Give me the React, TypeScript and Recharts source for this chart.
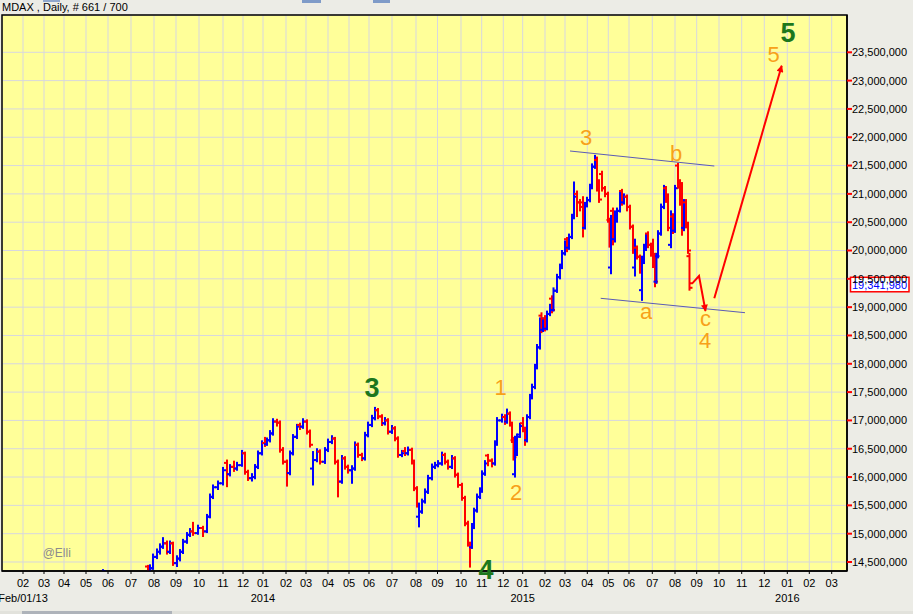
import React from 'react';
import {
  ComposedChart,
  Bar,
  Line,
  XAxis,
  YAxis,
  CartesianGrid,
  ReferenceDot,
  ReferenceArea,
} from 'recharts';

// ---- OHLC data (bar number = trading-day slot on the chart, values in thousands) ----
const barIdx = [
  101, 146, 148, 151, 155, 158, 161, 165, 168, 171, 175, 178, 181, 185, 188, 191, 196, 201, 205, 208,
  211, 216, 221, 225, 228, 232, 235, 240, 243, 246, 250, 253, 256, 260, 263, 265, 268, 271, 275, 278,
  281, 285, 288, 291, 295, 298, 301, 305, 308, 311, 315, 318, 323, 326, 330, 333, 336, 340, 343, 346,
  350, 353, 356, 360, 363, 366, 370, 373, 376, 380, 383, 386, 390, 393, 396, 400, 403, 406, 410, 412,
  415, 417, 420, 423, 426, 430, 433, 436, 440, 443, 446, 450, 453, 456, 460, 463, 466, 468, 470, 472,
  475, 478, 480, 483, 486, 490, 493, 495, 500, 503, 505, 508, 510, 511.5, 513, 515, 518, 521, 523, 525,
  528, 530, 533, 535, 538, 539.5, 541, 543, 545, 548, 550, 551.5, 555, 558, 560, 563, 565, 567, 570, 572,
  575, 578, 581, 583, 585, 588, 590, 593, 595, 597, 600, 603, 606, 607.5, 609, 611, 613, 615, 618, 620,
  622, 625, 628, 631, 633, 635, 638, 640, 642, 644, 646, 649, 651, 653, 654.5, 656, 659, 662, 664, 666,
  669, 671, 673, 676, 678, 680, 682, 684, 686, 687.5,
];
const opens = [
  14300, 14420, 14330, 14390, 14590, 14680, 14770, 14830, 14680, 14830, 14480, 14560, 14680, 14860, 14980, 15040, 15010, 15100, 15040, 15300,
  15650, 15820, 15890, 16250, 16050, 16180, 16150, 16210, 16420, 16090, 15980, 16000, 16180, 16420, 16600, 16580, 16650, 16770, 16980, 16960,
  16480, 16270, 16070, 16420, 16710, 16920, 16890, 16980, 16800, 16150, 16300, 16450, 16270, 16480, 16620, 16680, 16270, 15920, 16330, 16180,
  16120, 16150, 16570, 16390, 16330, 16740, 16920, 17040, 17180, 17070, 16950, 17000, 16800, 16860, 16680, 16390, 16460, 16420, 16480, 16270,
  15800, 15300, 15390, 15570, 15740, 15980, 16180, 16210, 16240, 16390, 16270, 16180, 16330, 16040, 15860, 15630, 15180, 14820, 14760, 15120,
  15410, 15650, 15760, 16060, 16380, 16290, 16240, 16590, 17000, 17060, 16980, 17120, 16940, 16650, 16050, 16400, 16750, 16950, 16850, 16650,
  17060, 17410, 17590, 17940, 18290, 18850, 18600, 18800, 18620, 18880, 19150, 18950, 19290, 19530, 19710, 19950, 20200, 20050, 20240, 20590,
  21000, 20850, 20850, 20400, 20800, 20890, 21120, 21480, 21600, 21120, 21350, 21100, 21000, 20540, 19700, 20700, 20200, 20650, 20700, 21050,
  20850, 20950, 20770, 20420, 19700, 20050, 19890, 19300, 19800, 20060, 20300, 20100, 19950, 19900, 19450, 19900, 20300, 20770, 21100, 20950,
  20100, 20600, 20350, 21500, 21200, 21000, 20400, 20850, 20450, 19900,
];
const highs = [
  14365, 14440, 14450, 14640, 14730, 14820, 14930, 14870, 14870, 14850, 14610, 14720, 14900, 15020, 15090, 15200, 15150, 15130, 15340, 15700,
  15860, 15930, 16170, 16300, 16220, 16280, 16260, 16470, 16440, 16120, 16060, 16220, 16460, 16640, 16700, 16690, 16820, 17030, 17020, 16990,
  16520, 16300, 16460, 16750, 16930, 16950, 17030, 17010, 16830, 16450, 16500, 16480, 16520, 16670, 16730, 16700, 16300, 16380, 16360, 16210,
  16200, 16620, 16600, 16420, 16790, 16970, 17090, 17230, 17210, 17100, 17050, 17030, 16910, 16890, 16710, 16470, 16520, 16530, 16510, 16300,
  15830, 15540, 15610, 15790, 16030, 16230, 16260, 16290, 16440, 16420, 16300, 16380, 16360, 16070, 15890, 15660, 15220, 14850, 15180, 15450,
  15700, 15810, 16110, 16290, 16400, 16320, 16640, 17050, 17110, 17100, 17200, 17150, 16970, 16700, 16720, 16760, 16950, 17050, 16880, 17100,
  17460, 17640, 17990, 18340, 18810, 18900, 18810, 18850, 18930, 19050, 19200, 19340, 19580, 19760, 20000, 20170, 20230, 20290, 20640, 21210,
  21050, 20900, 20950, 20850, 20940, 21170, 21530, 21680, 21650, 21250, 21400, 21130, 21030, 20570, 20620, 20750, 20700, 20750, 21060, 21080,
  21000, 20980, 20800, 20450, 20200, 20080, 19920, 19900, 20110, 20300, 20330, 20130, 20200, 19950, 19950, 20350, 20820, 21150, 21130, 21000,
  20700, 20650, 21150, 21540, 21250, 21200, 20900, 20900, 20500, 19950,
];
const lows = [
  14250, 14300, 14300, 14370, 14560, 14640, 14740, 14640, 14650, 14440, 14420, 14520, 14650, 14830, 14950, 14970, 14990, 14950, 15020, 15280,
  15620, 15780, 15860, 15830, 16020, 16100, 16120, 16190, 16050, 15940, 15930, 15970, 16150, 16390, 16540, 16560, 16620, 16740, 16900, 16440,
  16230, 15840, 16040, 16390, 16680, 16840, 16860, 16760, 16530, 15860, 16270, 16230, 16240, 16450, 16590, 16230, 15650, 15890, 16140, 16070,
  15890, 16120, 16350, 16290, 16300, 16710, 16890, 17010, 17030, 16910, 16920, 16760, 16770, 16640, 16350, 16360, 16380, 16390, 16230, 15760,
  15470, 15120, 15360, 15540, 15710, 15950, 16150, 16180, 16210, 16230, 16140, 16150, 16000, 15820, 15590, 15140, 14780, 14410, 14740, 15090,
  15380, 15620, 15730, 16030, 16200, 16180, 16210, 16560, 16970, 16930, 16950, 16900, 16610, 16300, 16000, 16380, 16700, 16800, 16560, 16620,
  17030, 17380, 17560, 17910, 18260, 18550, 18570, 18580, 18600, 18850, 18900, 18930, 19260, 19500, 19680, 19920, 19980, 20020, 20210, 20560,
  20600, 20700, 20240, 20380, 20770, 20860, 21090, 21450, 21050, 20850, 21050, 20950, 20500, 20060, 19590, 20100, 20150, 20500, 20680, 20800,
  20820, 20700, 20380, 19950, 19550, 19850, 19600, 19120, 19770, 20000, 20050, 19900, 19700, 19360, 19420, 19870, 20270, 20740, 20850, 20350,
  20050, 20300, 20320, 21100, 20800, 20270, 20350, 20400, 19950, 19300,
];
const closes = [
  14340, 14330, 14390, 14590, 14680, 14770, 14830, 14680, 14830, 14480, 14560, 14680, 14860, 14980, 15040, 15010, 15100, 15040, 15300, 15650,
  15820, 15890, 16120, 16050, 16180, 16150, 16210, 16420, 16090, 15980, 16000, 16180, 16420, 16600, 16580, 16650, 16770, 16980, 16960, 16480,
  16270, 16070, 16420, 16710, 16890, 16890, 16980, 16800, 16570, 16300, 16450, 16270, 16480, 16620, 16680, 16270, 15920, 16330, 16180, 16120,
  16150, 16570, 16390, 16330, 16740, 16920, 17040, 17180, 17070, 16950, 17000, 16800, 16860, 16680, 16390, 16420, 16420, 16480, 16270, 15800,
  15510, 15390, 15570, 15740, 15980, 16180, 16210, 16240, 16390, 16270, 16180, 16330, 16040, 15860, 15630, 15180, 14820, 14760, 15120, 15410,
  15650, 15760, 16060, 16240, 16290, 16240, 16590, 17000, 17060, 16980, 17120, 16940, 16650, 16350, 16400, 16710, 16900, 16850, 16650, 17060,
  17410, 17590, 17940, 18290, 18760, 18600, 18760, 18620, 18880, 19000, 18950, 19290, 19530, 19710, 19950, 20120, 20050, 20240, 20590, 20950,
  20850, 20770, 20400, 20800, 20890, 21120, 21480, 21540, 21120, 20900, 21100, 21000, 20540, 20150, 20550, 20200, 20650, 20700, 21000, 20850,
  20950, 20770, 20420, 20000, 20050, 19890, 19650, 19800, 20060, 20240, 20100, 19950, 19800, 19450, 19900, 20300, 20770, 21060, 20900, 20400,
  20600, 20350, 21100, 21200, 20850, 20400, 20850, 20450, 20000, 19342,
];

// ---- projected path and channel lines ----
const projABars = [687.7, 690.3, 697, 703.5];
const projAVals = [19421, 19421, 19550, 18932];
const projBBars = [712.3, 779.7];
const projBVals = [19156, 23263];
const upperBars = [568, 712.3];
const upperVals = [21757, 21492];
const lowerBars = [598.7, 743];
const lowerVals = [19156, 18902];

// ---- axis ticks ----
const monthTickBars = [
  21, 42, 62, 84, 106, 129, 152, 174, 197, 221, 241, 261, 284, 304, 326, 347, 367, 390, 414, 435.5,
  459, 479.7, 501.3, 520.7, 543, 563, 585.3, 606.3, 627, 650.3, 673, 694.7, 717, 739.7, 762.3, 785.3, 807.3, 829.7,
];
const monthLabels = [
  '02', '03', '04', '05', '06', '07', '08', '09', '10', '11', '12',
  '01', '02', '03', '04', '05', '06', '07', '08', '09', '10', '11', '12',
  '01', '02', '03', '04', '05', '06', '07', '08', '09', '10', '11', '12',
  '01', '02', '03',
];
const yearTickIndex = [0, 11, 23, 35];
const yearLabels = ['Feb/01/13', '2014', '2015', '2016'];
const priceTicks = [
  14500, 15000, 15500, 16000, 16500, 17000, 17500, 18000, 18500, 19000,
  19500, 20000, 20500, 21000, 21500, 22000, 22500, 23000, 23500,
];
const lastPrice = 19342;
const lastPriceText = '19,341,980';

// ---- wave labels ----
const greenWaveText = ['3', '4', '5'];
const greenWaveBars = [370, 484, 786];
const greenWaveVals = [17578, 14364, 23850];
const orangeWaveText = ['1', '2', '3', 'a', 'b', 'c', '4', '5'];
const orangeWaveBars = [498.7, 514, 584, 644, 674, 703.5, 703, 771.5];
const orangeWaveVals = [17594, 15741, 22000, 18936, 21710, 18808, 18408, 23474];
const signText = '@Elli';
const signBar = 40.7;
const signVal = 14668;

const candles = barIdx.map((b, i) => ({
  bar: b,
  open: opens[i],
  high: highs[i],
  low: lows[i],
  close: closes[i],
}));
const toPts = (bars: number[], vals: number[]) => bars.map((b, i) => ({ bar: b, v: vals[i] }));
const projA = toPts(projABars, projAVals);
const projB = toPts(projBBars, projBVals);
const upperLine = toPts(upperBars, upperVals);
const lowerLine = toPts(lowerBars, lowerVals);

const FONT = '"Liberation Sans", Arial, Helvetica, sans-serif';
const Y_MIN = 14341;
const Y_MAX = 24158.6;
const X_MAX = 845;

const Candle = (props: any) => {
  const { x, y, width, height, payload } = props;
  if (!payload || x == null || y == null) return null;
  const top = Math.min(y, y + height);
  const h = Math.abs(height);
  const cx = x + width / 2;
  const range = payload.high - payload.low || 1;
  const py = (v: number) => top + ((payload.high - v) / range) * h;
  const color = payload.close >= payload.open ? '#0000FF' : '#FF0000';
  return (
    <g>
      <line x1={cx} x2={cx} y1={top - 0.5} y2={top + h + 0.5} stroke={color} strokeWidth={2} />
      <line x1={cx - 3} x2={cx} y1={py(payload.open)} y2={py(payload.open)} stroke={color} strokeWidth={2} />
      <line x1={cx} x2={cx + 3} y1={py(payload.close)} y2={py(payload.close)} stroke={color} strokeWidth={2} />
    </g>
  );
};

const MonthTick = (props: any) => {
  const { x, y, payload } = props;
  let i = props.index;
  if (monthLabels[i] === undefined || monthTickBars[i] !== payload.value) {
    i = monthTickBars.indexOf(payload.value);
  }
  const yi = yearTickIndex.indexOf(i);
  return (
    <g>
      <text x={x} y={y + 12.5} textAnchor="middle" fontSize={11} fontFamily={FONT} fill="#000">
        {monthLabels[i]}
      </text>
      {yi >= 0 && (
        <text x={x} y={y + 27.5} textAnchor="middle" fontSize={11} fontFamily={FONT} fill="#000">
          {yearLabels[yi]}
        </text>
      )}
    </g>
  );
};

const textLabel =
  (text: string, color: string, size: number, weight: string, anchor: string = 'middle') =>
  (props: any) => {
    const vb = props.viewBox || {};
    const cx = (vb.x || 0) + (vb.width || 0) / 2;
    const cy = (vb.y || 0) + (vb.height || 0) / 2;
    return (
      <text
        x={cx}
        y={cy}
        dy="0.355em"
        textAnchor={anchor}
        fill={color}
        fontSize={size}
        fontWeight={weight}
        fontFamily={FONT}
      >
        {text}
      </text>
    );
  };

const priceBox = (props: any) => {
  const vb = props.viewBox || {};
  const cx = (vb.x || 0) + (vb.width || 0) / 2;
  const cy = (vb.y || 0) + (vb.height || 0) / 2;
  return (
    <g>
      <rect x={cx + 3.5} y={cy - 10.5} width={58.5} height={14.5} fill="#FFFFFF" stroke="#FF0000" strokeWidth={1.5} />
      <text x={cx + 5} y={cy + 1} fontSize={11} fontFamily={FONT} fill="#0000FF">
        {lastPriceText}
      </text>
    </g>
  );
};

export default function App() {
  return (
    <div
      style={{
        position: 'absolute',
        left: 0,
        top: 0,
        width: 913,
        height: 614,
        background: '#ECECE6',
        overflow: 'hidden',
      }}
    >
      <div
        style={{
          position: 'absolute',
          left: 2,
          top: 0,
          fontFamily: FONT,
          fontSize: 11,
          lineHeight: '15px',
          color: '#000',
          whiteSpace: 'nowrap',
        }}
      >
        MDAX , Daily, # 661 / 700
      </div>
      <div style={{ position: 'absolute', left: 43, top: 0, width: 17, height: 2, background: '#8FA6CC' }} />
      <div style={{ position: 'absolute', left: 302, top: 0, width: 19, height: 3, background: '#7F9BC8' }} />
      <div style={{ position: 'absolute', left: 373, top: 0, width: 17, height: 3, background: '#7F9BC8' }} />
      <div style={{ position: 'absolute', left: 0, top: 611, width: 913, height: 3, background: '#E2E2DC' }} />
      <div style={{ position: 'absolute', left: 22, top: 611, width: 150, height: 3, background: '#AEB3BA' }} />
      <div style={{ position: 'absolute', left: 0, top: 0 }}>
        <ComposedChart
          width={913}
          height={614}
          data={candles}
          margin={{ top: 15, right: 0, bottom: 0, left: 2 }}
        >
          <defs>
            <marker
              id="arrowRed"
              viewBox="0 0 10 10"
              refX="9"
              refY="5"
              markerWidth="4.5"
              markerHeight="3.5"
              orient="auto"
              markerUnits="strokeWidth"
            >
              <path d="M0,0 L10,5 L0,10 z" fill="#FF0000" />
            </marker>
          </defs>
          <CartesianGrid fill="#FFFF99" stroke="#D7D7DF" strokeWidth={1} />
          <XAxis
            dataKey="bar"
            type="number"
            domain={[0, X_MAX]}
            ticks={monthTickBars}
            interval={0}
            allowDataOverflow
            height={43}
            tickSize={3}
            tickMargin={0}
            tickLine={{ stroke: '#000' }}
            axisLine={{ stroke: '#000', strokeWidth: 1.5 }}
            tick={<MonthTick />}
          />
          <YAxis
            orientation="right"
            type="number"
            domain={[Y_MIN, Y_MAX]}
            ticks={priceTicks}
            interval={0}
            allowDataOverflow
            width={66}
            tickSize={5}
            tickMargin={0}
            tickLine={{ stroke: '#FF0000', strokeWidth: 2 }}
            axisLine={{ stroke: '#000', strokeWidth: 1.5 }}
            tick={{ fill: '#000', fontSize: 11, fontFamily: FONT }}
            tickFormatter={(v: number) => (v * 1000).toLocaleString('en-US')}
          />
          <ReferenceArea
            x1={0}
            x2={X_MAX}
            y1={Y_MIN}
            y2={Y_MAX}
            fill="none"
            fillOpacity={0}
            stroke="#000"
            strokeWidth={1.5}
            ifOverflow="visible"
          />
          <Bar
            dataKey={(d: any) => [d.low, d.high]}
            barSize={2}
            shape={<Candle />}
            isAnimationActive={false}
          />
          <Line
            data={upperLine}
            dataKey="v"
            type="linear"
            stroke="#5B5BB5"
            strokeWidth={1}
            dot={false}
            activeDot={false}
            isAnimationActive={false}
          />
          <Line
            data={lowerLine}
            dataKey="v"
            type="linear"
            stroke="#5B5BB5"
            strokeWidth={1}
            dot={false}
            activeDot={false}
            isAnimationActive={false}
          />
          <Line
            data={projA}
            dataKey="v"
            type="linear"
            stroke="#FF0000"
            strokeWidth={2}
            dot={false}
            activeDot={false}
            markerEnd="url(#arrowRed)"
            isAnimationActive={false}
          />
          <Line
            data={projB}
            dataKey="v"
            type="linear"
            stroke="#FF0000"
            strokeWidth={2}
            dot={false}
            activeDot={false}
            markerEnd="url(#arrowRed)"
            isAnimationActive={false}
          />
          {greenWaveText.map((t, i) => (
            <ReferenceDot
              key={'g' + i}
              x={greenWaveBars[i]}
              y={greenWaveVals[i]}
              r={0}
              fill="none"
              stroke="none"
              ifOverflow="visible"
              label={textLabel(t, '#1C771C', 27, 'bold')}
            />
          ))}
          {orangeWaveText.map((t, i) => (
            <ReferenceDot
              key={'o' + i}
              x={orangeWaveBars[i]}
              y={orangeWaveVals[i]}
              r={0}
              fill="none"
              stroke="none"
              ifOverflow="visible"
              label={textLabel(t, '#F7A11A', 22, 'normal')}
            />
          ))}
          <ReferenceDot
            x={signBar}
            y={signVal}
            r={0}
            fill="none"
            stroke="none"
            ifOverflow="visible"
            label={textLabel(signText, '#8C8C8C', 12, 'normal', 'start')}
          />
          <ReferenceDot
            x={X_MAX}
            y={lastPrice}
            r={0}
            fill="none"
            stroke="none"
            ifOverflow="visible"
            label={priceBox}
          />
        </ComposedChart>
      </div>
    </div>
  );
}
